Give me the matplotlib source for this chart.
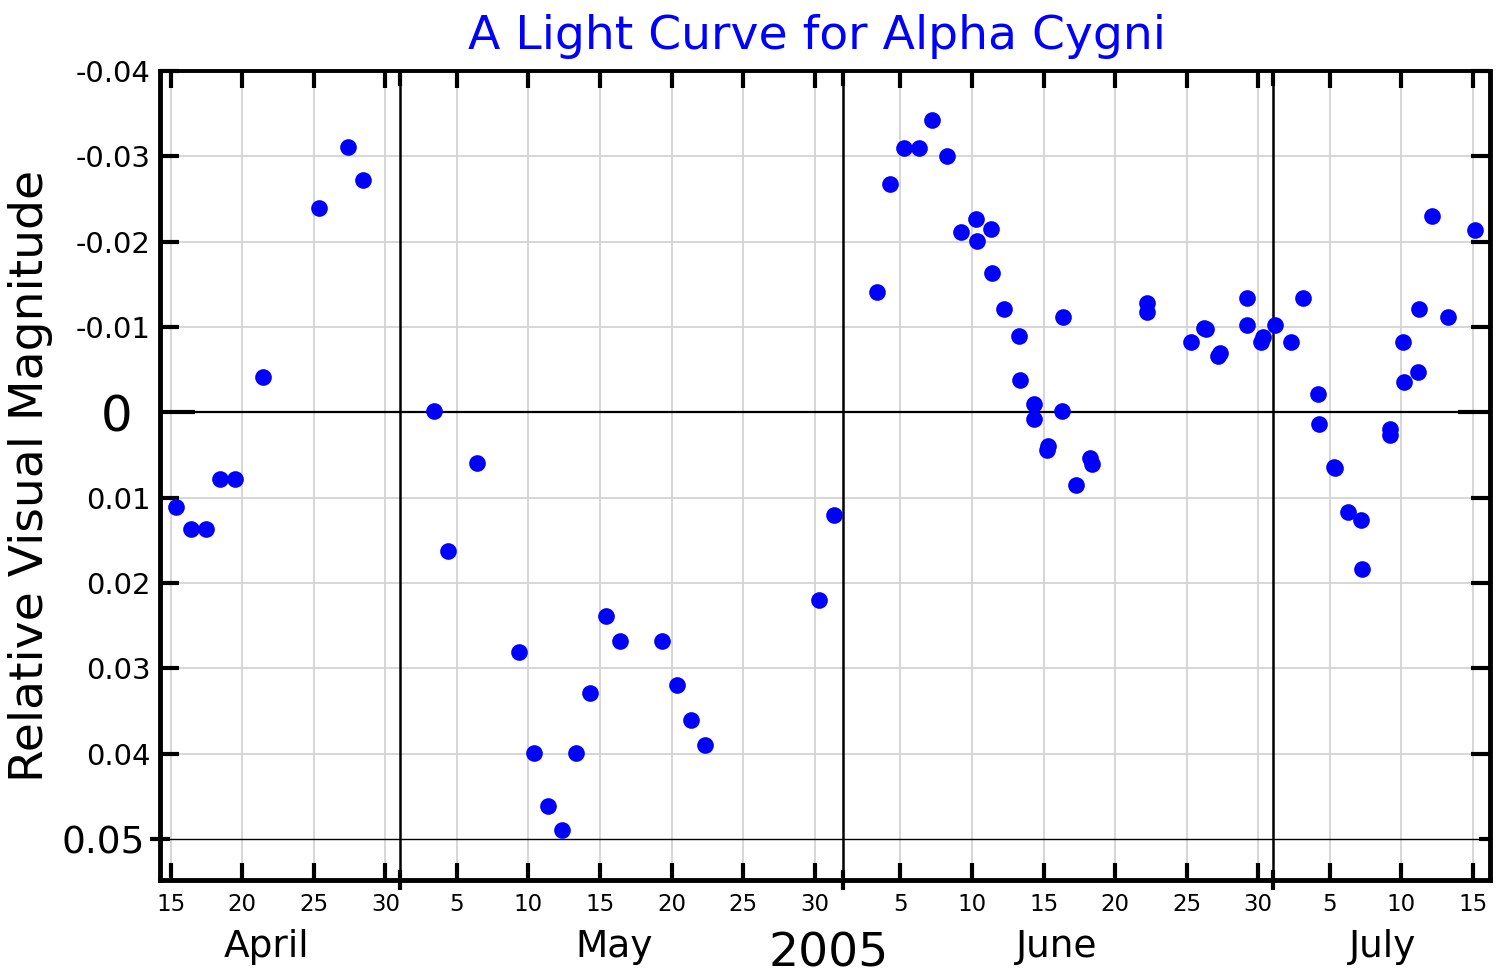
import matplotlib
matplotlib.use('Agg')
import matplotlib.pyplot as plt
import matplotlib.lines as mlines

# observation time, in days counted from 31 March 2005 (April 15 -> 15, May 5 -> 35 ...)
day = [15.36, 16.43, 17.44, 18.42, 19.49, 21.42, 25.38, 27.36, 28.43,
       33.39, 34.39, 36.38, 39.35, 40.36, 41.36, 42.34, 43.32, 44.32, 45.39,
       46.37, 49.35, 50.35, 51.35, 52.33, 60.30, 61.35,
       64.33, 65.26, 66.24, 67.26, 68.21, 69.26, 70.22, 71.25, 71.36, 72.32,
       72.37, 73.25, 74.29, 74.32, 75.30, 75.32, 76.30, 76.21, 77.26, 77.35,
       78.28, 79.23, 79.40, 83.24, 83.26, 86.29, 87.20, 87.34, 88.21, 88.30,
       90.19, 90.21, 91.22, 91.33,
       92.18, 93.26, 94.15, 95.15, 95.26, 96.29, 96.36, 97.27, 98.19, 98.24,
       100.20, 100.20, 101.13, 101.21, 102.20, 102.27, 103.17, 104.25, 106.14]

mag = [0.0111, 0.0137, 0.0137, 0.0078, 0.0078, -0.0041, -0.0240, -0.0311, -0.0272,
       -0.0002, 0.0162, 0.0059, 0.0281, 0.0399, 0.0461, 0.0489, 0.0399, 0.0329, 0.0239,
       0.0268, 0.0268, 0.0319, 0.0361, 0.0390, 0.0220, 0.0120,
       -0.0141, -0.0268, -0.0310, -0.0310, -0.0343, -0.0300, -0.0211, -0.0227, -0.0201, -0.0215,
       -0.0163, -0.0121, -0.0089, -0.0038, -0.0010, 0.0008, 0.0039, 0.0044, -0.0002, -0.0112,
       0.0085, 0.0053, 0.0060, -0.0128, -0.0118, -0.0082, -0.0099, -0.0098, -0.0066, -0.0070,
       -0.0134, -0.0102, -0.0083, -0.0088,
       -0.0102, -0.0082, -0.0134, -0.0022, 0.0014, 0.0064, 0.0065, 0.0117, 0.0126, 0.0184,
       0.0020, 0.0027, -0.0082, -0.0035, -0.0047, -0.0121, -0.0230, -0.0112, -0.0214]

month_names = ['April', 'May', 'June', 'July']
month_offset = [0, 30, 61, 91]
month_label_day = [21.7, 46.0, 76.9, 99.7]
month_start = [31, 62, 92]
tick_days = [[15, 20, 25, 30],
             [5, 10, 15, 20, 25, 30],
             [5, 10, 15, 20, 25, 30],
             [5, 10, 15]]
year_label = '2005'
year_label_day = 61.0

y_major = [-0.04, -0.03, -0.02, -0.01, 0, 0.01, 0.02, 0.03, 0.04]
y_major_labels = ['-0.04', '-0.03', '-0.02', '-0.01', '0',
                  '0.01', '0.02', '0.03', '0.04']
y_minor = [0, 0.05]
y_minor_labels = ['', '0.05']


def plot_curve():
    fig = plt.figure(figsize=(15, 9.75), dpi=100)
    ax = fig.add_axes([160 / 1500, 95 / 975, 1330 / 1500, 809 / 975])

    ax.plot(day, mag, 'o', color='blue', ms=12, mew=0, zorder=5)

    ax.set_xlim(14.25, 107.2)
    ax.set_ylim(0.0548, -0.04)

    ax.grid(True, which='major', color='#d3d3d3', lw=1.3)
    ax.axhline(0, color='black', lw=1.6, zorder=2)
    ax.axhline(0.05, color='black', lw=1.0, zorder=2)
    for m in month_start:
        ax.axvline(m, color='black', lw=1.8, zorder=2)

    xt = []
    xl = []
    for off, days in zip(month_offset, tick_days):
        for d in days:
            xt.append(off + d)
            xl.append(str(d))
    ax.set_xticks(xt, xl)
    ax.set_xticks(month_start, minor=True)
    ax.set_yticks(y_major, y_major_labels)
    ax.set_yticks(y_minor, y_minor_labels, minor=True)

    ax.tick_params(which='both', top=True, right=True, color='black', width=3)
    ax.tick_params(axis='x', which='major', direction='in', length=12.5,
                   labelsize=16.5, pad=9.5)
    ax.tick_params(axis='y', which='major', direction='in', length=14,
                   labelsize=21, pad=7)
    ax.tick_params(which='minor', direction='inout', length=14)
    ax.tick_params(axis='y', which='minor', labelsize=27, pad=4)

    # the zero line gets a long tick and a big label
    zero = ax.yaxis.get_major_ticks()[y_major.index(0)]
    zero.set_pad(19.5)
    zero.tick1line.set_markersize(25)
    zero.tick2line.set_markersize(23)
    zero.label1.set_fontsize(36)

    # minor ticks on the right / top only point inwards
    for t in ax.yaxis.get_minor_ticks():
        t.tick2line.set_marker(mlines.TICKLEFT)
        t.tick2line.set_markersize(8)
    for t in ax.xaxis.get_minor_ticks():
        t.tick2line.set_marker(mlines.TICKDOWN)
        t.tick2line.set_markersize(11)

    for side, s in ax.spines.items():
        s.set_linewidth(2.8 if side == 'top' else 3.5)

    trans = ax.get_xaxis_transform()
    for name, x in zip(month_names, month_label_day):
        ax.text(x, -0.0952, name, transform=trans, ha='center',
                va='baseline', fontsize=27)
    ax.text(year_label_day, -0.1075, year_label, transform=trans,
            ha='center', va='baseline', fontsize=34)

    ax.set_title('A Light Curve for Alpha Cygni', color='blue', fontsize=34,
                 pad=16, x=0.494)
    ax.set_ylabel('Relative Visual Magnitude', fontsize=34)
    ax.yaxis.set_label_coords(-0.0805, 0.5)

    fig.savefig('out.png', dpi=100)


if __name__ == '__main__':
    plot_curve()
